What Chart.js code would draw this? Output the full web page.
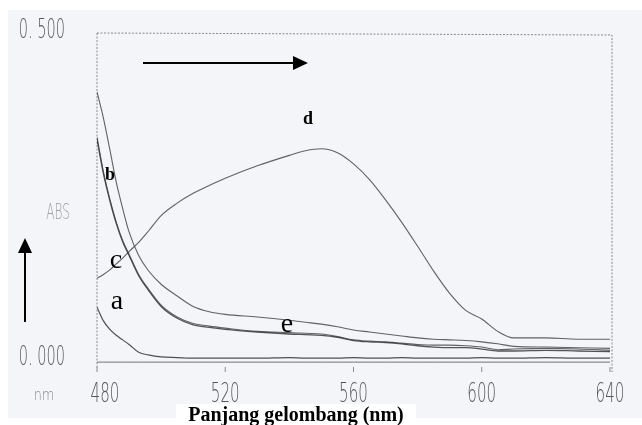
<!DOCTYPE html>
<html>
<head>
<meta charset="utf-8">
<script src="https://cdn.jsdelivr.net/npm/chart.js@4/dist/chart.umd.min.js"></script>
<style>
  html, body { margin: 0; padding: 0; background: #fff; }
  canvas { display: block; }
</style>
</head>
<body>
<canvas id="spektrum" width="642" height="425"></canvas>
<script>
// absorption spectra a-e, 480-640 nm
const wavelength = [480, 482, 484, 486, 488, 490, 493, 496, 500, 505, 510, 515, 520, 530, 540, 545,
                    550, 555, 560, 565, 570, 575, 580, 585, 590, 595, 600, 605, 610, 620, 630, 640];

const absA = [0.081, 0.060, 0.047, 0.038, 0.031, 0.024, 0.012, 0.008, 0.005, 0.004, 0.003, 0.003, 0.003, 0.003, 0.004, 0.003,
              0.003, 0.003, 0.004, 0.003, 0.003, 0.004, 0.003, 0.003, 0.003, 0.003, 0.004, 0.003, 0.003, 0.004, 0.003, 0.003];
const absB = [0.410, 0.370, 0.322, 0.272, 0.232, 0.196, 0.160, 0.137, 0.116, 0.098, 0.082, 0.074, 0.070, 0.066, 0.061, 0.058,
              0.055, 0.051, 0.046, 0.043, 0.040, 0.037, 0.034, 0.032, 0.031, 0.030, 0.028, 0.025, 0.021, 0.020, 0.019, 0.018];
const absC = [0.341, 0.288, 0.246, 0.211, 0.183, 0.162, 0.131, 0.109, 0.084, 0.066, 0.056, 0.052, 0.049, 0.044, 0.042, 0.041,
              0.040, 0.036, 0.031, 0.029, 0.028, 0.026, 0.024, 0.023, 0.023, 0.022, 0.020, 0.016, 0.017, 0.018, 0.017, 0.015];
const absD = [0.125, 0.131, 0.138, 0.147, 0.156, 0.166, 0.180, 0.197, 0.221, 0.240, 0.255, 0.267, 0.278, 0.297, 0.313, 0.320,
              0.323, 0.317, 0.300, 0.276, 0.245, 0.211, 0.174, 0.136, 0.102, 0.076, 0.063, 0.044, 0.034, 0.034, 0.032, 0.032];
const absE = [0.338, 0.285, 0.244, 0.209, 0.181, 0.160, 0.129, 0.107, 0.082, 0.064, 0.054, 0.050, 0.047, 0.043, 0.040, 0.039,
              0.038, 0.035, 0.030, 0.028, 0.027, 0.025, 0.022, 0.020, 0.019, 0.019, 0.017, 0.014, 0.014, 0.015, 0.014, 0.013];
const absBase = [-0.003, -0.003, -0.003, -0.003, -0.003, -0.003, -0.003, -0.003, -0.003, -0.003, -0.003, -0.003, -0.003, -0.003, -0.003, -0.003,
                 -0.003, -0.003, -0.003, -0.003, -0.003, -0.003, -0.003, -0.003, -0.003, -0.003, -0.003, -0.003, -0.003, -0.003, -0.003, -0.003];

const xTicks = [480, 520, 560, 600, 640];
const yTicks = [0, 0.5];
const yTickText = ['0. 000', '0. 500'];

function pts(values) {
    return values.map((v, i) => ({ x: wavelength[i], y: v }));
}

function line(label, values, color, width) {
    return {
        label: label,
        data: pts(values),
        borderColor: color,
        borderWidth: width,
        pointRadius: 0,
        cubicInterpolationMode: 'monotone',
        fill: false
    };
}

// thin condensed grey lettering of the recorder
function narrow(ctx, text, x, y, size, sx, color, align) {
    ctx.save();
    ctx.font = '300 ' + size + 'px "DejaVu Sans"';
    ctx.fillStyle = color;
    ctx.textBaseline = 'alphabetic';
    const w = ctx.measureText(text).width * sx;
    let left = x;
    if (align === 'center') left = x - w / 2;
    if (align === 'right') left = x - w;
    ctx.translate(left, y);
    ctx.scale(sx, 1);
    ctx.textAlign = 'left';
    ctx.fillText(text, 0, 0);
    ctx.restore();
}

function serif(ctx, text, x, y, font) {
    ctx.save();
    ctx.font = font;
    ctx.fillStyle = '#000';
    ctx.textAlign = 'center';
    ctx.textBaseline = 'middle';
    ctx.fillText(text, x, y);
    ctx.restore();
}

function arrow(ctx, x1, y1, x2, y2) {
    const ang = Math.atan2(y2 - y1, x2 - x1);
    const len = 15, half = 7;
    ctx.save();
    ctx.strokeStyle = '#000';
    ctx.fillStyle = '#000';
    ctx.lineWidth = 2;
    ctx.beginPath();
    ctx.moveTo(x1, y1);
    ctx.lineTo(x2 - Math.cos(ang) * len, y2 - Math.sin(ang) * len);
    ctx.stroke();
    ctx.beginPath();
    ctx.moveTo(x2, y2);
    ctx.lineTo(x2 - Math.cos(ang) * len - Math.sin(ang) * half, y2 - Math.sin(ang) * len + Math.cos(ang) * half);
    ctx.lineTo(x2 - Math.cos(ang) * len + Math.sin(ang) * half, y2 - Math.sin(ang) * len - Math.cos(ang) * half);
    ctx.closePath();
    ctx.fill();
    ctx.restore();
}

const paper = {
    id: 'paper',
    beforeDraw(chart) {
        const ctx = chart.ctx;
        const area = chart.chartArea;
        ctx.save();
        ctx.fillStyle = '#f3f5f9';
        ctx.fillRect(0, 0, chart.width, chart.height);
        ctx.fillStyle = '#ffffff';
        ctx.fillRect(0, 0, chart.width, 10);
        ctx.fillRect(0, 0, 8, chart.height);
        ctx.fillRect(0, 418, chart.width, 7);
        ctx.fillRect(176, 404, 240, 21);
        // dotted frame
        ctx.strokeStyle = '#8a8a8a';
        ctx.lineWidth = 1;
        ctx.setLineDash([2, 1.5]);
        ctx.beginPath();
        ctx.moveTo(area.left, area.top);
        ctx.lineTo(area.right + 2, area.top + 2);
        ctx.lineTo(area.right + 2, area.bottom + 4);
        ctx.moveTo(area.left, area.top);
        ctx.lineTo(area.left, area.bottom);
        ctx.stroke();
        ctx.setLineDash([]);
        // small ticks along the bottom
        const xs = chart.scales.x;
        xTicks.forEach(v => {
            const px = xs.getPixelForValue(v);
            ctx.beginPath();
            ctx.moveTo(px, area.bottom - 1);
            ctx.lineTo(px, area.bottom + 4);
            ctx.stroke();
        });
        ctx.restore();
    },
    afterDraw(chart) {
        const ctx = chart.ctx;
        const xs = chart.scales.x;
        const ys = chart.scales.y;

        xTicks.forEach((v, i) => {
            const px = xs.getPixelForValue(v) + (i === 0 ? 8 : 0);
            narrow(ctx, String(v), px, 402, 26, 0.58, '#555', 'center');
        });
        yTicks.forEach((v, i) => {
            narrow(ctx, yTickText[i], 65, ys.getPixelForValue(v) + 5, 26, 0.56, '#555', 'right');
        });
        narrow(ctx, 'ABS', 58, 219, 22, 0.55, '#a0a0a0', 'center');
        narrow(ctx, 'nm', 44, 400, 16, 0.8, '#8c8c8c', 'center');

        ctx.save();
        ctx.font = 'bold 20px "Liberation Serif"';
        ctx.fillStyle = '#000';
        ctx.textAlign = 'center';
        ctx.textBaseline = 'alphabetic';
        ctx.fillText('Panjang gelombang (nm)', 296, 421);
        ctx.restore();

        serif(ctx, 'b', 110, 175, 'bold 18px "Liberation Serif"');
        serif(ctx, 'd', 308, 119, 'bold 18px "Liberation Serif"');
        serif(ctx, 'c', 116, 261, '28px "Liberation Serif"');
        serif(ctx, 'a', 117, 302, '28px "Liberation Serif"');
        serif(ctx, 'e', 287, 325, '28px "Liberation Serif"');

        arrow(ctx, 143, 63, 308, 63);
        arrow(ctx, 25, 322, 25, 238);
    }
};

const ctx = document.getElementById('spektrum');
new Chart(ctx, {
    type: 'line',
    data: {
        datasets: [
            line('baseline', absBase, 'rgba(70,70,70,0.75)', 1),
            line('a', absA, 'rgba(50,50,50,0.85)', 1.2),
            line('b', absB, 'rgba(60,60,60,0.8)', 1.1),
            line('c', absC, 'rgba(60,60,60,0.8)', 1.1),
            line('e', absE, 'rgba(30,30,30,0.75)', 1.3),
            line('d', absD, 'rgba(60,60,60,0.8)', 1.1)
        ]
    },
    options: {
        responsive: false,
        animation: false,
        layout: { padding: { left: 97, top: 33, right: 32, bottom: 57 } },
        plugins: {
            legend: { display: false },
            tooltip: { enabled: false }
        },
        scales: {
            x: { type: 'linear', min: 480, max: 640, display: false },
            y: { min: -0.012, max: 0.5, display: false }
        }
    },
    plugins: [paper]
});
</script>
</body>
</html>
